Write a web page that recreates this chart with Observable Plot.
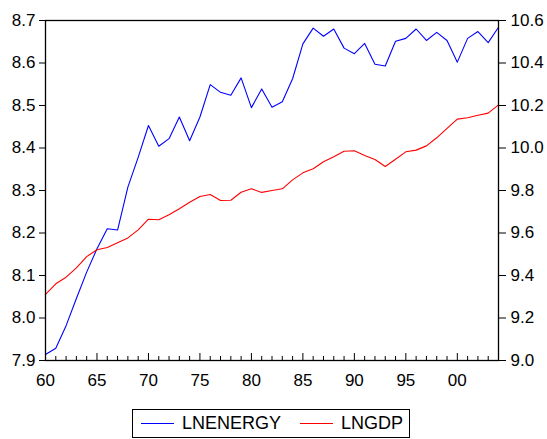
<!DOCTYPE html>
<html>
<head>
<meta charset="utf-8">
<script src="https://cdn.jsdelivr.net/npm/d3@7"></script>
<script src="https://cdn.jsdelivr.net/npm/@observablehq/plot@0.6"></script>
<style>
  body { margin: 0; background: #fff; font-family: "Liberation Sans", Arial, sans-serif; }
  #legend { position: absolute; left: 132px; top: 409px; width: 276px; height: 27px; border: 1px solid #000;
            display: flex; align-items: center; font-size: 18px; color: #000; box-sizing: content-box; }
  .sw { display: inline-block; width: 33px; height: 0; border-top: 1px solid; margin-right: 8px; }
</style>
</head>
<body>
<div id="chart"></div>
<div id="legend">
  <span class="sw" style="border-color:#0000ff;margin-left:8px"></span><span>LNENERGY</span>
  <span class="sw" style="border-color:#ff0000;margin-left:19px"></span><span>LNGDP</span>
</div>
<script>
const years = d3.range(1960, 2005);
const lnenergy = [7.914, 7.929, 7.982, 8.046, 8.108, 8.163, 8.210, 8.207, 8.308, 8.378,
  8.453, 8.404, 8.422, 8.473, 8.417, 8.473, 8.549, 8.531, 8.524, 8.565,
  8.495, 8.539, 8.496, 8.509, 8.563, 8.645, 8.682, 8.663, 8.680, 8.635,
  8.622, 8.646, 8.597, 8.593, 8.651, 8.658, 8.680, 8.653, 8.672, 8.653,
  8.602, 8.658, 8.674, 8.648, 8.684];
const lngdp = [9.311, 9.361, 9.392, 9.436, 9.489, 9.521, 9.532, 9.554, 9.577, 9.615,
  9.665, 9.662, 9.686, 9.714, 9.745, 9.772, 9.781, 9.753, 9.754, 9.792,
  9.808, 9.791, 9.800, 9.808, 9.850, 9.883, 9.902, 9.935, 9.959, 9.985,
  9.987, 9.965, 9.946, 9.913, 9.947, 9.982, 9.990, 10.010, 10.048, 10.092,
  10.136, 10.142, 10.154, 10.164, 10.203];
const leftTicks = [7.9, 8.0, 8.1, 8.2, 8.3, 8.4, 8.5, 8.6, 8.7];
const rightTicks = [9.0, 9.2, 9.4, 9.6, 9.8, 10.0, 10.2, 10.4, 10.6];
const majorYears = [1960, 1965, 1970, 1975, 1980, 1985, 1990, 1995, 2000];

// map right-axis values onto the left scale
const toLeft = v => 7.9 + (v - 9.0) / 2;
const fromLeft = y => (y - 7.9) * 2 + 9.0;

const energyData = years.map((yr, i) => ({year: yr, v: lnenergy[i]}));
const gdpData = years.map((yr, i) => ({year: yr, v: toLeft(lngdp[i])}));

const chart = Plot.plot({
  width: 547,
  height: 400,
  marginLeft: 45,
  marginRight: 49,
  marginTop: 20,
  marginBottom: 40,
  style: {fontFamily: "'Liberation Sans', Arial, sans-serif", fontSize: "17px", color: "#000", background: "#fff"},
  x: {domain: [1960, 2004]},
  y: {domain: [7.9, 8.7]},
  marks: [
    Plot.line(energyData, {x: "year", y: "v", stroke: "#0000ff", strokeWidth: 1.1}),
    Plot.line(gdpData, {x: "year", y: "v", stroke: "#ff0000", strokeWidth: 1.1}),
    Plot.tickX(years.filter(y => y % 5 !== 0), {x: d => d, insetTop: 336, stroke: "#000", strokeWidth: 1}),
    Plot.tickX(majorYears, {x: d => d, insetTop: 333, stroke: "#000", strokeWidth: 1}),
    Plot.axisX(majorYears, {tickSize: 0, tickPadding: 13, label: null,
      tickFormat: d => String(d % 100).padStart(2, "0")}),
    Plot.axisY(leftTicks, {anchor: "left", tickSize: 6, tickPadding: 4, label: null,
      tickFormat: d => d.toFixed(1)}),
    Plot.axisY(rightTicks.map(toLeft), {anchor: "right", tickSize: 7, tickPadding: 5, label: null,
      tickFormat: d => fromLeft(d).toFixed(1)}),
    Plot.frame({stroke: "#000", strokeWidth: 1.3})
  ]
});
document.getElementById("chart").appendChild(chart);
</script>
</body>
</html>
